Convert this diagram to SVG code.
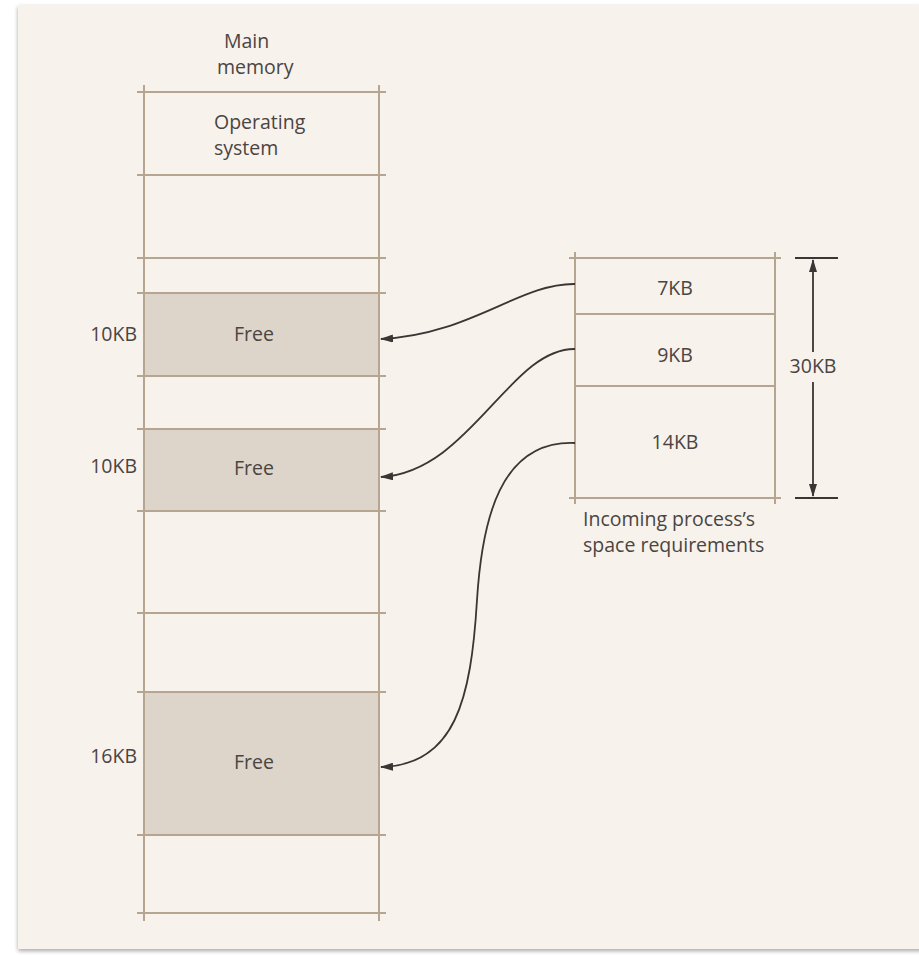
<svg xmlns="http://www.w3.org/2000/svg" width="919" height="955" viewBox="0 0 919 955">
<defs>
<style>
text{font-family:"Open Sans","Noto Sans","Liberation Sans",sans-serif;font-size:19.5px;fill:#4a4542}
.c{text-anchor:middle}
.r{text-anchor:end}
.ln{stroke:#b5a591;stroke-width:2;fill:none}
.free{fill:#ddd5ca}
.conn{stroke:#3a3634;stroke-width:1.8;fill:none;marker-end:url(#ah)}
.dim{stroke:#3a3634;stroke-width:1.8;fill:none}
</style>
<marker id="ah" viewBox="0 0 13 8" refX="12" refY="4" markerWidth="13" markerHeight="8" markerUnits="userSpaceOnUse" orient="auto">
<path d="M0,0 L13,4 L0,8 Z" fill="#3a3634"/>
</marker>
<filter id="sh" x="-5%" y="-5%" width="110%" height="110%">
<feGaussianBlur in="SourceAlpha" stdDeviation="2"/>
<feOffset dx="0" dy="2"/>
<feComponentTransfer><feFuncA type="linear" slope="0.35"/></feComponentTransfer>
<feMerge><feMergeNode/><feMergeNode in="SourceGraphic"/></feMerge>
</filter>
</defs>
<rect x="0" y="0" width="919" height="955" fill="#ffffff"/>
<rect x="18" y="5" width="905" height="944" fill="#f8f2ec" filter="url(#sh)"/>

<g id="main-memory">
<text x="224" y="48">Main</text>
<text x="217" y="74">memory</text>
<rect class="free" x="144" y="293" width="235" height="83"/>
<rect class="free" x="144" y="429" width="235" height="82"/>
<rect class="free" x="144" y="692" width="235" height="143"/>
<path class="ln" d="M144,85 V921 M379,85 V921 M137,92 H386 M137,175 H386 M137,258 H386 M137,293 H386 M137,376 H386 M137,429 H386 M137,511 H386 M137,613 H386 M137,692 H386 M137,835 H386 M137,913 H386"/>
</g>
<g id="os"><text x="214" y="129">Operating</text><text x="214" y="155">system</text></g>
<g id="free1"><text class="c" x="254" y="341">Free</text><text class="r" x="137" y="341">10KB</text></g>
<g id="free2"><text class="c" x="254" y="475">Free</text><text class="r" x="137" y="473">10KB</text></g>
<g id="free3"><text class="c" x="254" y="769">Free</text><text class="r" x="137" y="763">16KB</text></g>

<g id="incoming">
<path class="ln" d="M575,252 V504 M775,252 V504 M569,258 H781 M575,314 H775 M575,386 H775 M569,498 H781"/>
<text class="c" x="675" y="295">7KB</text>
<text class="c" x="675" y="362">9KB</text>
<text class="c" x="675" y="449">14KB</text>
<text x="583" y="526">Incoming process’s</text>
<text x="583" y="552">space requirements</text>
</g>

<g id="dimension">
<path class="dim" d="M795,258 H838 M795,498 H838"/>
<path class="dim" d="M813,352 V260" marker-end="url(#ah)"/>
<path class="dim" d="M813,382 V496" marker-end="url(#ah)"/>
<text class="c" x="813" y="373">30KB</text>
</g>

<g id="connectors">
<path class="conn" d="M575,284 C520,283 470,335 381,339"/>
<path class="conn" d="M575,349 C510,348 470,472 381,477"/>
<path class="conn" d="M575,443 C500,440 482,520 477,600 C471,700 455,765 381,767"/>
</g>
</svg>
